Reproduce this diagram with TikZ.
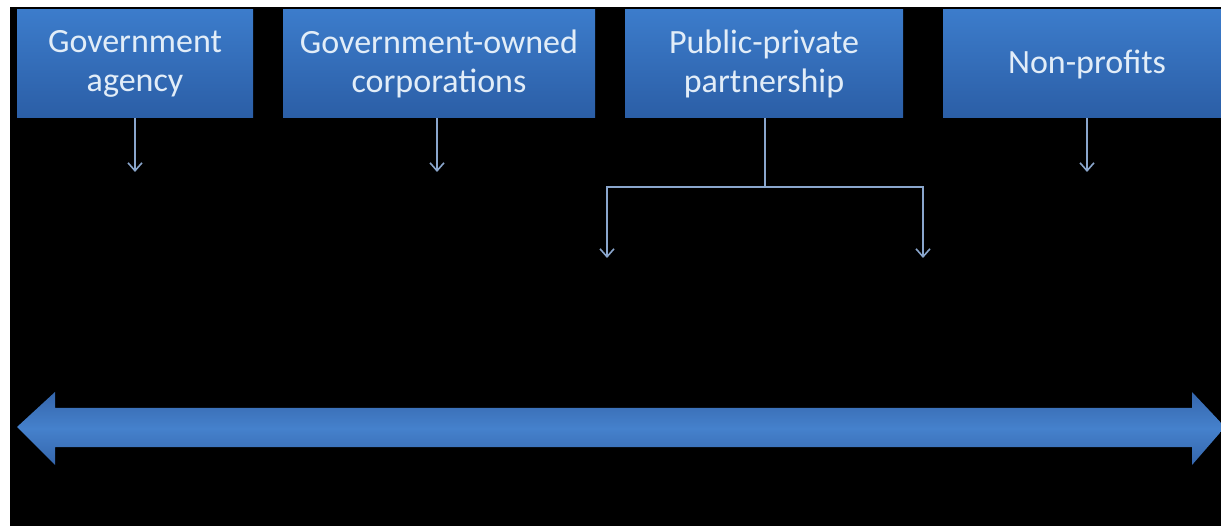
\documentclass[tikz,border=0pt]{standalone}
\usepackage{fontspec}
\setmainfont{Carlito}
\usetikzlibrary{arrows.meta}
\definecolor{boxtop}{HTML}{3C7CCB}
\definecolor{boxbot}{HTML}{2B5EA6}
\definecolor{boxtext}{HTML}{E2EDF8}
\definecolor{linkcol}{HTML}{8AA6CC}
\definecolor{bandmid}{HTML}{4581CC}
\definecolor{bandedge}{HTML}{3566AC}
\tikzset{
  catbox/.style={rectangle, top color=boxtop, bottom color=boxbot, draw=none,
    minimum height=108pt, inner sep=0pt, align=center, text=boxtext,
    font=\fontsize{34}{39}\selectfont},
  conn/.style={draw=linkcol, line width=1.8pt},
  connarrow/.style={conn, -{Straight Barb[length=8pt,width=14pt,line width=1.6pt]}}
}
\begin{document}
\begin{tikzpicture}[x=1pt,y=-1pt]
  % page and black backdrop
  \useasboundingbox (0,0) rectangle (1221,526);
  \fill[white] (0,0) rectangle (1221,526);
  \fill[black] (10,7) rectangle (1221,526);

  % category boxes
  \node[catbox, minimum width=236pt] (agency) at (135,64) {Government\\agency};
  \node[catbox, minimum width=312pt] (owned) at (439,64) {Government-owned\\corporations};
  \node[catbox, minimum width=278pt] (ppp) at (764,64) {Public-private\\partnership};
  \node[catbox, minimum width=288pt] (nonprofit) at (1087,64) {Non-profits};

  % connector ends
  \coordinate (endA) at (135,172);
  \coordinate (endB) at (437,172);
  \coordinate (split) at (765,187);
  \coordinate (splitL) at (607,187);
  \coordinate (splitR) at (923,187);
  \coordinate (endL) at (607,258);
  \coordinate (endR) at (923,258);
  \coordinate (endD) at (1087,172);

  % connectors
  \draw[connarrow] (agency.south -| endA) -- (endA);
  \draw[connarrow] (owned.south -| endB) -- (endB);
  \draw[conn] (ppp.south -| split) -- (split);
  \draw[connarrow] (splitR) -- (splitL) -- (endL);
  \draw[connarrow] (splitL) -- (splitR) -- (endR);
  \draw[connarrow] (nonprofit.south -| endD) -- (endD);

  % double-headed band across the bottom
  \shade[top color=bandedge, bottom color=bandedge, middle color=bandmid]
    (17,427) -- (55,392) -- (55,408) -- (1192,408) -- (1192,392)
    -- (1225,427) -- (1192,465) -- (1192,447) -- (55,447) -- (55,465) -- cycle;
\end{tikzpicture}
\end{document}
